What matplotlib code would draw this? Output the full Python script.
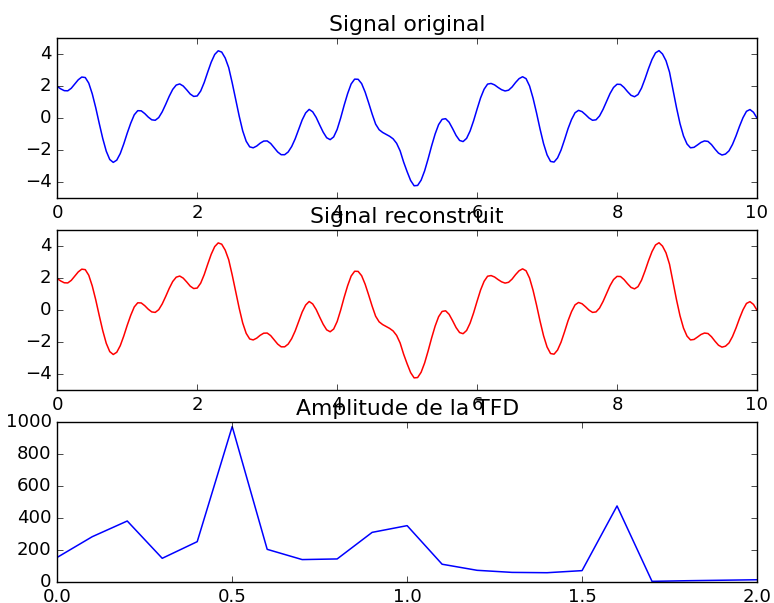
import matplotlib
matplotlib.use("Agg")
import matplotlib.pyplot as plt
import numpy as np

temps = np.arange(201) * 0.05
signal_original = [
    1.97, 1.82, 1.71, 1.70, 1.86, 2.12, 2.39, 2.56, 2.53, 2.18,
    1.51, 0.64, -0.34, -1.28, -2.07, -2.59, -2.77, -2.63, -2.22, -1.62,
    -0.94, -0.32, 0.20, 0.46, 0.45, 0.28, 0.06, -0.11, -0.14, 0.03,
    0.39, 0.86, 1.36, 1.79, 2.06, 2.13, 2.00, 1.76, 1.50, 1.35,
    1.38, 1.69, 2.22, 2.87, 3.49, 3.97, 4.20, 4.12, 3.75, 3.15,
    2.20, 1.15, 0.12, -0.80, -1.45, -1.80, -1.86, -1.75, -1.57, -1.44,
    -1.43, -1.59, -1.85, -2.12, -2.29, -2.29, -2.12, -1.78, -1.30, -0.70,
    -0.12, 0.32, 0.54, 0.39, 0.04, -0.43, -0.88, -1.23, -1.35, -1.18,
    -0.71, 0.00, 0.80, 1.53, 2.13, 2.43, 2.42, 2.15, 1.62, 0.95,
    0.25, -0.38, -0.73, -0.90, -1.02, -1.14, -1.30, -1.58, -2.05, -2.75,
    -3.35, -3.90, -4.23, -4.21, -3.88, -3.30, -2.55, -1.74, -1.00, -0.41,
    -0.08, -0.04, -0.26, -0.66, -1.09, -1.40, -1.47, -1.27, -0.81, -0.17,
    0.56, 1.26, 1.80, 2.12, 2.16, 2.07, 1.91, 1.77, 1.69, 1.74,
    1.94, 2.22, 2.46, 2.58, 2.46, 2.00, 1.24, 0.31, -0.69, -1.60,
    -2.30, -2.71, -2.75, -2.49, -2.00, -1.35, -0.66, -0.09, 0.33, 0.48,
    0.40, 0.21, 0.00, -0.14, -0.11, 0.13, 0.54, 1.04, 1.53, 1.91,
    2.11, 2.10, 1.91, 1.65, 1.42, 1.33, 1.47, 1.87, 2.45, 3.09,
    3.66, 4.07, 4.21, 4.00, 3.58, 2.87, 1.75, 0.65, -0.35, -1.12,
    -1.62, -1.86, -1.83, -1.68, -1.52, -1.43, -1.46, -1.66, -1.94, -2.19,
    -2.31, -2.25, -2.05, -1.65, -1.12, -0.52, 0.02, 0.42, 0.53, 0.36,
    0.00,
]
# the reconstruction is visually identical to the original
signal_reconstruit = list(signal_original)

# DFT amplitude, bins every 0.1 Hz
frequences = np.arange(21) * 0.1
amplitude_tfd = [156, 285, 383, 150, 254, 973, 206, 142, 146, 312,
                 354, 113, 75, 62, 60, 73, 477, 6, 10, 13, 16]

plt.style.use("classic")
plt.rcParams["font.size"] = 13.1
plt.rcParams["lines.linewidth"] = 1.1

fig, (ax1, ax2, ax3) = plt.subplots(3, 1, figsize=(7.74, 6.03), dpi=100,
                                    facecolor="white")
fig.subplots_adjust(left=0.074, right=0.978, top=0.937, bottom=0.0343,
                    hspace=0.2)

ax1.plot(temps, signal_original, color="b")
ax1.set_title("Signal original")
ax1.set_xlim(0, 10)
ax1.set_ylim(-5, 5)
ax1.set_yticks([-4, -2, 0, 2, 4])

ax2.plot(temps, signal_reconstruit, color="r")
ax2.set_title("Signal reconstruit")
ax2.set_xlim(0, 10)
ax2.set_ylim(-5, 5)
ax2.set_yticks([-4, -2, 0, 2, 4])

ax3.plot(frequences, amplitude_tfd, color="b")
ax3.set_title("Amplitude de la TFD")
ax3.set_xlim(0, 2)
ax3.set_ylim(0, 1000)
ax3.set_xticks([0.0, 0.5, 1.0, 1.5, 2.0])
ax3.set_xticklabels(["0.0", "0.5", "1.0", "1.5", "2.0"])

fig.savefig("out.png", dpi=100, facecolor="white")
